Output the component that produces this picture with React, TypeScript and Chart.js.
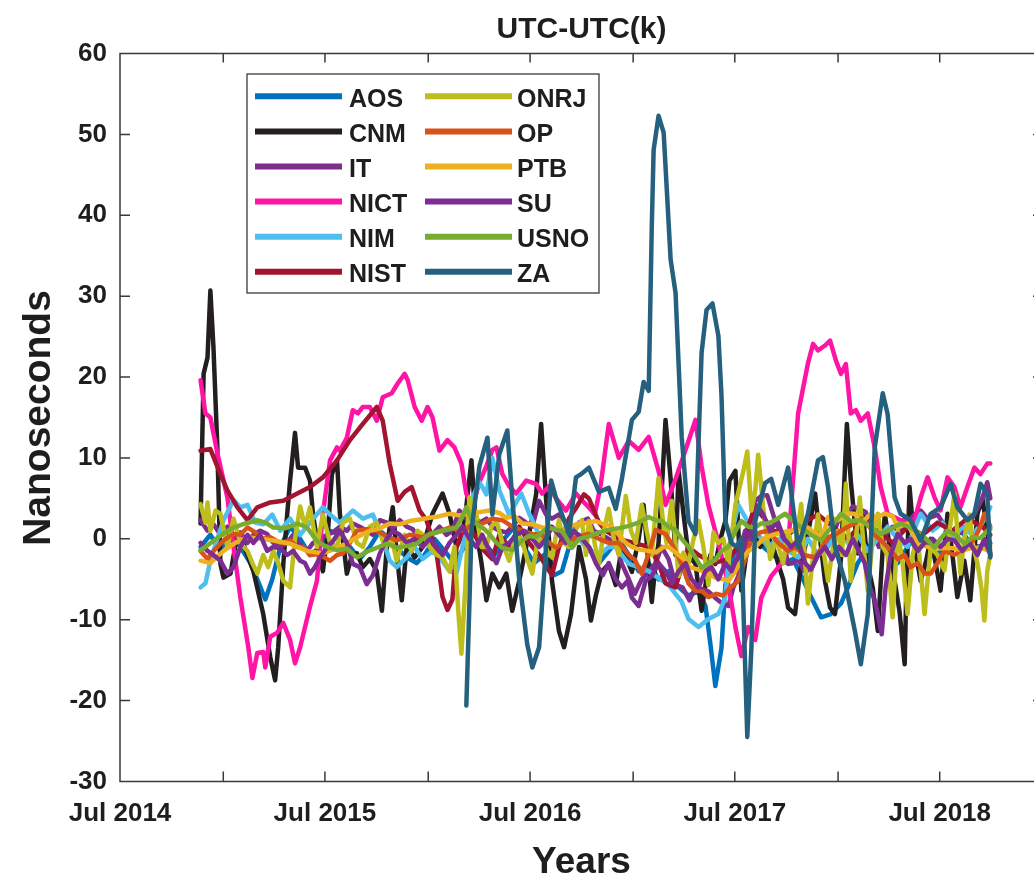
import { useEffect, useRef } from 'react';
import { Chart, registerables } from 'chart.js';
import type { Plugin } from 'chart.js';

Chart.register(...registerables);

type Pt = [number, number];

// Time axis in decimal years (1 Jul ≈ .496)
const X_MIN = 2014.496;
const X_MAX = 2019.0;
const X_TICKS = [2014.496, 2015.0, 2015.496, 2016.0, 2016.497, 2017.0, 2017.496, 2018.0, 2018.496, 2019.0];
const X_TICK_LABELS = ['Jul 2014', '', 'Jul 2015', '', 'Jul 2016', '', 'Jul 2017', '', 'Jul 2018', ''];
const Y_MIN = -30;
const Y_MAX = 60;
const Y_STEP = 10;

const TITLE = 'UTC-UTC(k)';
const X_TITLE = 'Years';
const Y_TITLE = 'Nanoseconds';

const LABELS = ['AOS', 'CNM', 'IT', 'NICT', 'NIM', 'NIST', 'ONRJ', 'OP', 'PTB', 'SU', 'USNO', 'ZA'];
const COLORS = ['#0072BD', '#231F20', '#7E2F8E', '#FF14A5', '#4DBEEE', '#A2142F', '#BDBD1C', '#D95319', '#EDB120', '#7B2D93', '#77AC30', '#25607F'];

// UTC - UTC(k) in ns, [decimal year, value]
const AOS: Pt[] = [
  [2014.889, -1], [2014.937, 0.5], [2014.986, -1.5], [2015.035, 1], [2015.083, -1], [2015.132, -3], [2015.166, -5],
  [2015.205, -7.5], [2015.239, -5], [2015.278, -1], [2015.326, 1.5], [2015.375, 0], [2015.423, -2], [2015.472, -1],
  [2015.521, 1], [2015.569, 0.5], [2015.618, -1], [2015.666, -2.5], [2015.715, -1], [2015.764, 1], [2015.812, 0],
  [2015.861, -1.5], [2015.909, -2.5], [2015.943, -3], [2015.982, -2], [2016.031, 0], [2016.080, -1.5], [2016.128, -3],
  [2016.176, -1], [2016.225, 1], [2016.274, -0.5], [2016.323, -2], [2016.371, 0], [2016.420, 1.5], [2016.468, -1],
  [2016.517, -3], [2016.565, -2], [2016.614, -4.5], [2016.653, -4], [2016.687, -1], [2016.736, 0.5], [2016.784, -1],
  [2016.833, -3], [2016.881, -1.5], [2016.930, 0], [2016.979, -2], [2017.027, -4], [2017.076, -3], [2017.124, -5],
  [2017.173, -4], [2017.222, -6], [2017.270, -7], [2017.319, -6.5], [2017.353, -8.3], [2017.377, -13], [2017.401, -18.2],
  [2017.431, -13.5], [2017.450, -5.7], [2017.489, -2], [2017.538, 0], [2017.586, 1], [2017.635, -1], [2017.683, -2],
  [2017.732, -3], [2017.780, -2.5], [2017.829, -5], [2017.868, -7.2], [2017.917, -9.7], [2017.965, -9.3], [2018.014, -8],
  [2018.048, -6], [2018.096, -3], [2018.145, -1], [2018.194, 0], [2018.242, -1.5], [2018.291, -3], [2018.339, -1],
  [2018.388, 0.5], [2018.437, -1], [2018.485, -2], [2018.534, 0], [2018.582, 1.5], [2018.631, 0], [2018.680, -1],
  [2018.743, -0.5],
];

const CNM: Pt[] = [
  [2014.889, 1.9], [2014.904, 20.4], [2014.923, 22.4], [2014.937, 30.7], [2014.952, 23.7], [2014.971, 11.3], [2014.986, -3.1],
  [2015.001, -4.8], [2015.035, -4.3], [2015.069, 0.6], [2015.098, -0.6], [2015.147, -4], [2015.195, -9.3], [2015.229, -14.6],
  [2015.253, -17.5], [2015.268, -13.4], [2015.293, -3.1], [2015.312, 3.1], [2015.326, 7.2], [2015.350, 13.1], [2015.365, 8.8],
  [2015.399, 8.8], [2015.423, 7.2], [2015.438, 3], [2015.462, -1], [2015.486, -4], [2015.511, 1], [2015.530, 8],
  [2015.555, 9.7], [2015.569, 3.1], [2015.603, -4.3], [2015.628, -2], [2015.652, -1.8], [2015.681, -3.5], [2015.715, -2.5],
  [2015.749, -4], [2015.774, -8.9], [2015.798, -1], [2015.827, 3.9], [2015.846, -1.8], [2015.871, -7.6], [2015.895, -1],
  [2015.934, -2.3], [2015.973, -1], [2016.021, 3.1], [2016.070, 5.6], [2016.104, 3.1], [2016.138, -1], [2016.167, 0.5],
  [2016.186, 4], [2016.211, 9.7], [2016.235, 1], [2016.260, -3], [2016.284, -7.6], [2016.313, -4.3], [2016.347, -6],
  [2016.381, -4.3], [2016.410, -8.9], [2016.444, -5.2], [2016.478, -1], [2016.503, 2], [2016.527, 5.6], [2016.551, 14.2],
  [2016.575, 5], [2016.604, -5.2], [2016.638, -11.4], [2016.663, -13.4], [2016.697, -9.3], [2016.736, -1], [2016.770, -5],
  [2016.794, -10.1], [2016.818, -7], [2016.848, -4], [2016.881, -3.1], [2016.915, -5.7], [2016.945, -1], [2016.994, -4.1],
  [2017.027, 0], [2017.051, 4.2], [2017.071, -2], [2017.091, -7.8], [2017.110, -3], [2017.124, -0.5], [2017.144, 8],
  [2017.158, 14.7], [2017.183, 7.4], [2017.207, -2], [2017.222, 8.4], [2017.246, 3], [2017.270, -2], [2017.304, -3.1],
  [2017.334, -8.9], [2017.353, -5.7], [2017.377, -2], [2017.401, -3.1], [2017.426, 0], [2017.450, 2.2], [2017.470, 7.2],
  [2017.499, 8.4], [2017.528, -6.4], [2017.552, -2], [2017.586, 1], [2017.620, -1], [2017.659, 0.2], [2017.683, -1],
  [2017.708, -3.1], [2017.732, -5], [2017.756, -8.5], [2017.790, -9.3], [2017.815, -4], [2017.839, -1], [2017.863, 2],
  [2017.888, 5.6], [2017.912, 0], [2017.936, -5.2], [2017.961, -8.5], [2017.985, -9.3], [2018.014, -2.5], [2018.043, 14.2],
  [2018.062, 7.2], [2018.096, -1.8], [2018.121, 3], [2018.145, -3.2], [2018.169, -6], [2018.194, -11.4], [2018.228, 3.1],
  [2018.252, -1], [2018.276, -5.2], [2018.300, -9], [2018.325, -15.5], [2018.334, -5], [2018.349, 6.4], [2018.373, -1],
  [2018.403, -5.2], [2018.427, -3], [2018.452, 0], [2018.476, -3], [2018.500, -6.4], [2018.534, 3.1], [2018.558, -2],
  [2018.582, -7.2], [2018.616, -2.7], [2018.645, -7.6], [2018.680, 3.1], [2018.704, 5], [2018.728, 1], [2018.743, -2],
];

const IT: Pt[] = [
  [2014.889, 2.3], [2014.923, 1], [2014.952, 1.8], [2014.986, 0.5], [2015.020, 1.5], [2015.050, -0.5], [2015.083, 0.8],
  [2015.118, -0.5], [2015.147, 0.5], [2015.180, 1], [2015.214, 0.6], [2015.244, -0.5], [2015.278, -1], [2015.312, -0.5],
  [2015.341, 0.5], [2015.375, -0.8], [2015.409, -1.5], [2015.438, -0.5], [2015.472, 0], [2015.506, 0.5], [2015.535, 0.8],
  [2015.569, 1.5], [2015.603, 1], [2015.632, 1.9], [2015.666, 1.5], [2015.700, 1], [2015.730, 0.5], [2015.764, 2.3],
  [2015.798, 2], [2015.827, 1.3], [2015.861, 2.3], [2015.895, 1.5], [2015.924, 1.2], [2015.958, 0], [2015.992, 0.5],
  [2016.021, 0.6], [2016.055, 1.5], [2016.089, 0.5], [2016.118, 1], [2016.152, 3.5], [2016.186, 2.5], [2016.216, 3.1],
  [2016.250, 2], [2016.284, 2.5], [2016.313, 1.5], [2016.347, 1], [2016.381, 0.8], [2016.410, 1.5], [2016.444, 2.6],
  [2016.478, 2], [2016.508, 1.5], [2016.541, 4.7], [2016.575, 3], [2016.604, 2.5], [2016.638, 3], [2016.672, 2],
  [2016.702, 1], [2016.736, 2], [2016.779, 2.5], [2016.808, 1], [2016.847, 0.5], [2016.881, 0], [2016.915, -0.5],
  [2016.945, -3.1], [2016.979, -5], [2017.008, -6.8], [2017.042, -5], [2017.076, -4], [2017.110, -3], [2017.139, -1],
  [2017.173, -2.5], [2017.207, -5.7], [2017.241, -6], [2017.275, -7.6], [2017.304, -6], [2017.334, -6.2], [2017.367, -6.5],
  [2017.401, -7.3], [2017.435, -8], [2017.465, -8.3], [2017.489, -6], [2017.513, -4.6], [2017.547, -0.5], [2017.572, 2],
  [2017.596, 4.7], [2017.625, 5.3], [2017.654, 5.4], [2017.693, 2.2], [2017.732, 0], [2017.756, -3.1], [2017.780, -3],
  [2017.805, -2.5], [2017.834, -4], [2017.868, -3.8], [2017.902, -2], [2017.936, -1.5], [2017.970, 0], [2018.004, 2.5],
  [2018.038, 3], [2018.072, 4], [2018.101, 3.7], [2018.135, 3.3], [2018.169, 1], [2018.199, -1], [2018.232, 0.5],
  [2018.266, 1.5], [2018.300, 1], [2018.339, 2], [2018.373, 3], [2018.403, 3.5], [2018.437, 2.5], [2018.485, 3],
  [2018.524, 1.5], [2018.568, 0.2], [2018.606, 1], [2018.641, 2], [2018.665, 3], [2018.704, 5], [2018.728, 7],
  [2018.743, 5],
];

const NICT: Pt[] = [
  [2014.889, 19.6], [2014.913, 15.5], [2014.937, 15], [2014.971, 10.6], [2015.020, 5.1], [2015.050, -1], [2015.083, -7.2],
  [2015.122, -13.4], [2015.142, -17.2], [2015.166, -14.1], [2015.195, -14], [2015.205, -15.9], [2015.229, -12.1],
  [2015.263, -11.6], [2015.293, -10.4], [2015.326, -12.5], [2015.350, -15.4], [2015.375, -13.4], [2015.423, -8.4],
  [2015.457, -5.2], [2015.486, 3.1], [2015.521, 9.7], [2015.555, 11.3], [2015.569, 10.9], [2015.603, 12.5], [2015.632, 15.9],
  [2015.657, 15.5], [2015.681, 16.3], [2015.715, 16.3], [2015.749, 14.6], [2015.778, 17.5], [2015.822, 18], [2015.851, 19.2],
  [2015.885, 20.4], [2015.900, 19.6], [2015.934, 16.3], [2015.968, 14.6], [2015.997, 16.3], [2016.021, 15], [2016.055, 10.9],
  [2016.094, 12.2], [2016.128, 11.3], [2016.162, 9.3], [2016.186, 5.6], [2016.216, 4], [2016.250, 7], [2016.284, 9],
  [2016.313, 11], [2016.333, 11.3], [2016.362, 8], [2016.395, 6.5], [2016.429, 5.6], [2016.478, 7.2], [2016.527, 6.8],
  [2016.556, 5.6], [2016.590, 6.5], [2016.624, 5], [2016.672, 3.5], [2016.721, 5.6], [2016.760, 4.5], [2016.784, 3.9],
  [2016.813, 3], [2016.842, 6.7], [2016.881, 14.2], [2016.930, 10], [2016.979, 12.1], [2017.027, 11], [2017.076, 12.6],
  [2017.124, 8.4], [2017.158, 4.2], [2017.207, 7.4], [2017.256, 11], [2017.304, 14.7], [2017.334, 9], [2017.367, 4.2],
  [2017.416, -0.5], [2017.465, -5.7], [2017.499, -10.9], [2017.528, -14.5], [2017.562, -10.9], [2017.596, -12.5],
  [2017.625, -7.3], [2017.674, -4.6], [2017.722, -3.1], [2017.756, -1], [2017.781, 7.4], [2017.805, 15.5], [2017.853, 21.7],
  [2017.878, 24.1], [2017.902, 23.3], [2017.936, 23.9], [2017.961, 24.5], [2017.990, 22], [2018.014, 20.4], [2018.038, 21.6],
  [2018.062, 15.5], [2018.087, 15.9], [2018.111, 14.6], [2018.145, 15.5], [2018.179, 11.3], [2018.208, 6.4], [2018.242, 3.1],
  [2018.305, 2.3], [2018.373, 2.3], [2018.403, 5.1], [2018.437, 7.6], [2018.471, 5.1], [2018.500, 3.5], [2018.534, 7.6],
  [2018.568, 6.4], [2018.597, 3.9], [2018.631, 6.4], [2018.665, 8.8], [2018.695, 8], [2018.728, 9.3], [2018.743, 9.3],
];

const NIM: Pt[] = [
  [2014.889, -6], [2014.913, -5.5], [2014.937, -2.7], [2014.971, 0], [2015.001, 2.3], [2015.050, 4.8], [2015.083, 3.9],
  [2015.118, 4.2], [2015.156, 2], [2015.195, 1.8], [2015.239, 3], [2015.278, 1], [2015.326, 2.5], [2015.375, 0.5],
  [2015.423, 2], [2015.486, 3.9], [2015.521, 3], [2015.569, 2], [2015.632, 3.5], [2015.681, 2.5], [2015.730, 3],
  [2015.778, 0], [2015.812, -2.7], [2015.846, -3.5], [2015.895, -2.3], [2015.934, -1], [2015.973, -2.5], [2016.021, -1.5],
  [2016.070, -2.8], [2016.104, -4], [2016.138, -4.3], [2016.176, 0], [2016.216, 5.1], [2016.250, 7], [2016.284, 5.5],
  [2016.313, 10], [2016.347, 6], [2016.395, 3], [2016.454, 5.6], [2016.493, 3.1], [2016.541, 0.5], [2016.590, -2],
  [2016.638, -1], [2016.687, 1.5], [2016.736, 0], [2016.784, -1.5], [2016.833, -2], [2016.881, -1], [2016.915, -1],
  [2016.945, -2], [2016.979, -3.1], [2017.027, -3.5], [2017.076, -4], [2017.110, -4.6], [2017.173, -5.7], [2017.237, -7.8],
  [2017.270, -9.9], [2017.319, -10.9], [2017.367, -9.9], [2017.416, -9.3], [2017.450, -7.3], [2017.475, 0], [2017.513, 4.2],
  [2017.562, 2], [2017.610, 0.5], [2017.659, -1], [2017.708, 0], [2017.756, -1.5], [2017.805, -2.3], [2017.853, 0],
  [2017.902, -2], [2017.951, -1], [2017.999, 1], [2018.048, -0.5], [2018.096, 0.5], [2018.145, -1.5], [2018.194, 0],
  [2018.242, 1.5], [2018.291, 0], [2018.339, -1], [2018.403, 3.1], [2018.461, 1], [2018.510, 2], [2018.558, 0],
  [2018.607, 1.5], [2018.655, 0.5], [2018.704, 2], [2018.743, 3.9],
];

const NIST: Pt[] = [
  [2014.889, 10.9], [2014.937, 11.1], [2014.986, 8], [2015.020, 6], [2015.069, 3.9], [2015.118, 2.3], [2015.166, 3.9],
  [2015.229, 4.5], [2015.293, 4.7], [2015.361, 5.6], [2015.423, 6.4], [2015.486, 7.6], [2015.555, 9.7], [2015.618, 12.2],
  [2015.681, 14.2], [2015.749, 16.3], [2015.778, 14.6], [2015.812, 9.3], [2015.851, 4.7], [2015.885, 5.8], [2015.919, 6.4],
  [2015.958, 3.5], [2015.992, 2.3], [2016.041, -1.8], [2016.070, -7.2], [2016.094, -8.8], [2016.118, -7.5], [2016.138, -1],
  [2016.176, 1.5], [2016.225, 0.5], [2016.274, -1.5], [2016.313, -2.5], [2016.347, 0.5], [2016.395, -1], [2016.444, 1.5],
  [2016.493, -0.5], [2016.541, -2], [2016.604, -4.5], [2016.638, -1], [2016.687, 2.5], [2016.726, 4], [2016.760, 5.5],
  [2016.784, 5], [2016.833, 2], [2016.867, 1], [2016.930, 0], [2017.003, -0.5], [2017.076, -1], [2017.124, -3],
  [2017.158, -5.5], [2017.207, -6], [2017.237, -3.5], [2017.270, -1], [2017.319, -2], [2017.392, -3], [2017.465, -2.5],
  [2017.538, 0], [2017.596, 3.9], [2017.625, 3], [2017.683, 1], [2017.756, 0.5], [2017.829, 2], [2017.902, 3],
  [2017.975, 1.5], [2018.048, 0], [2018.121, 2], [2018.194, 1], [2018.266, -0.5], [2018.339, 1.5], [2018.413, 0.5],
  [2018.485, 2], [2018.558, 1], [2018.631, 2.5], [2018.704, 1.5], [2018.743, 0.5],
];

const ONRJ: Pt[] = [
  [2014.889, 4.3], [2014.913, 2], [2014.923, 4.5], [2014.937, 1], [2014.962, 3.5], [2014.986, 3.1], [2015.020, -1],
  [2015.050, 2.5], [2015.083, -0.5], [2015.118, -1.5], [2015.142, -3], [2015.166, -4.3], [2015.195, -2], [2015.219, -3.5],
  [2015.244, -1.5], [2015.268, -3], [2015.293, -5.2], [2015.326, -6], [2015.350, 0], [2015.375, 4], [2015.399, 1.5],
  [2015.423, 3.9], [2015.457, -1], [2015.486, 3], [2015.521, -0.5], [2015.555, -1], [2015.584, 2], [2015.618, 2.5],
  [2015.652, -0.5], [2015.681, -1], [2015.715, 1.5], [2015.749, 2], [2015.788, -1], [2015.822, 0], [2015.846, -2.7],
  [2015.885, 0.5], [2015.919, -1.5], [2015.948, 1], [2015.973, 0.5], [2016.007, -1], [2016.041, -2], [2016.070, -2.3],
  [2016.104, -4], [2016.128, -1], [2016.147, -9], [2016.162, -14.2], [2016.181, -6], [2016.201, 5.1], [2016.235, 3],
  [2016.260, -1], [2016.284, -1], [2016.308, 1.5], [2016.333, 2.3], [2016.362, -0.5], [2016.395, -2.7], [2016.429, 0.5],
  [2016.459, -0.2], [2016.483, -2.5], [2016.508, -4.3], [2016.532, -0.5], [2016.556, 0.6], [2016.580, -1.5], [2016.604, -2.3],
  [2016.624, 0.5], [2016.638, 2.3], [2016.663, -0.5], [2016.687, -1], [2016.716, 1], [2016.750, 2.3], [2016.770, -2],
  [2016.784, 2.2], [2016.808, 0], [2016.833, -3.1], [2016.857, 1], [2016.881, 3.7], [2016.906, 0], [2016.930, -2],
  [2016.964, 5.3], [2016.989, 1], [2017.013, -0.5], [2017.042, 4.2], [2017.066, 1], [2017.091, -2], [2017.124, 7.5],
  [2017.144, 2.5], [2017.163, -0.5], [2017.188, 4.7], [2017.222, -4.6], [2017.246, -1.7], [2017.270, -3.1], [2017.295, 0],
  [2017.319, 2.2], [2017.343, -1], [2017.367, -5.7], [2017.392, 0.8], [2017.416, -0.5], [2017.440, 0], [2017.465, -3.1],
  [2017.499, 4.2], [2017.538, 8.4], [2017.557, 10.8], [2017.577, 3.5], [2017.596, 6], [2017.610, 10.4], [2017.640, 2.5],
  [2017.669, -2.5], [2017.698, 0], [2017.732, -3], [2017.756, 1], [2017.785, -2], [2017.820, 4.3], [2017.853, -8],
  [2017.878, -2], [2017.902, 3], [2017.926, -1], [2017.951, -5.2], [2017.975, -1], [2017.999, 1], [2018.019, -2],
  [2018.038, 6.8], [2018.062, -5.2], [2018.087, 0], [2018.106, 5.1], [2018.125, -1], [2018.145, -6.4], [2018.169, 0],
  [2018.194, 3.1], [2018.218, -1], [2018.242, -2], [2018.266, -9.7], [2018.291, 1], [2018.315, -3], [2018.339, -9.3],
  [2018.364, -2], [2018.388, 0.5], [2018.422, -9.3], [2018.452, -1], [2018.485, -2], [2018.519, -3.9], [2018.544, 1],
  [2018.568, 5.6], [2018.597, -4.3], [2018.616, 0], [2018.641, 3], [2018.660, -1], [2018.680, -3], [2018.699, -6],
  [2018.714, -10.1], [2018.728, -4], [2018.743, -1.8],
];

const OP: Pt[] = [
  [2014.889, -1.5], [2014.923, -2.5], [2014.952, -1.5], [2015.001, -0.2], [2015.050, 0.6], [2015.083, 0.5], [2015.118, 1.4],
  [2015.156, 0.8], [2015.190, 0], [2015.229, 0.2], [2015.278, -0.5], [2015.326, -0.2], [2015.361, -1], [2015.390, -1],
  [2015.423, -2], [2015.457, -1.9], [2015.486, -2.2], [2015.521, -2.7], [2015.555, -2], [2015.584, -1.8], [2015.618, -0.5],
  [2015.652, 1], [2015.700, 1.2], [2015.749, 1], [2015.798, 0.3], [2015.846, -0.2], [2015.909, 0.5], [2015.973, 0.2],
  [2016.041, 0.8], [2016.104, 1.4], [2016.176, 1], [2016.225, 2], [2016.264, 1.9], [2016.313, 2.5], [2016.362, 2.3],
  [2016.410, 1.5], [2016.459, 1], [2016.508, 0.6], [2016.556, 0.5], [2016.590, -0.5], [2016.624, -1.1], [2016.653, -0.5],
  [2016.687, -0.2], [2016.736, 0.3], [2016.784, 0.6], [2016.833, 0], [2016.881, -0.5], [2016.930, -0.5], [2016.979, -2],
  [2017.008, -2.6], [2017.042, -4.3], [2017.076, -1.8], [2017.110, 1.1], [2017.158, 0.6], [2017.197, -1], [2017.237, -3.1],
  [2017.270, -5.5], [2017.304, -6.4], [2017.338, -6.5], [2017.367, -7.2], [2017.406, -6.8], [2017.440, -7], [2017.475, -6],
  [2017.513, -5.2], [2017.547, -2.5], [2017.577, 0], [2017.620, 0.8], [2017.659, 1], [2017.708, -0.5], [2017.756, -1.5],
  [2017.790, -1], [2017.834, -2], [2017.888, -2.3], [2017.922, -1], [2017.951, 0.2], [2017.985, 0.5], [2018.014, 1],
  [2018.048, 1.5], [2018.082, 1.9], [2018.111, 2.5], [2018.145, 1.8], [2018.179, 0.5], [2018.208, -0.2], [2018.242, -1],
  [2018.291, -2.5], [2018.325, -2], [2018.354, -3.5], [2018.388, -3], [2018.422, -4.3], [2018.452, -4.3], [2018.485, -3],
  [2018.519, -1.5], [2018.568, -2], [2018.597, -1.5], [2018.631, -1], [2018.665, 0], [2018.695, 1.5], [2018.714, 3.1],
  [2018.728, 2.5], [2018.743, 1.5],
];

const PTB: Pt[] = [
  [2014.889, -2.7], [2014.937, -3], [2015.001, -1.5], [2015.059, -0.5], [2015.118, 0.2], [2015.180, 0], [2015.244, -0.2],
  [2015.326, -0.6], [2015.409, -1.5], [2015.486, -1.8], [2015.569, -1], [2015.652, 0.2], [2015.715, 1], [2015.764, 1.3],
  [2015.812, 1.9], [2015.861, 1.8], [2015.909, 2.2], [2015.958, 2.4], [2016.007, 2.6], [2016.055, 2.8], [2016.104, 3.1],
  [2016.152, 2.9], [2016.201, 3.1], [2016.250, 3.3], [2016.298, 3.5], [2016.347, 3.2], [2016.381, 2.6], [2016.420, 2.8],
  [2016.459, 1.9], [2016.508, 1.8], [2016.556, 1.4], [2016.604, 1.2], [2016.653, 1], [2016.687, 1.5], [2016.736, 1.9],
  [2016.784, 2], [2016.818, 2.2], [2016.857, 1.8], [2016.891, 1.6], [2016.930, 0.5], [2016.964, -0.5], [2016.994, -1],
  [2017.027, -1.3], [2017.076, -1.5], [2017.110, -1.7], [2017.149, -1], [2017.173, -1], [2017.207, -1.7], [2017.246, -2.5],
  [2017.275, -3.5], [2017.319, -3.8], [2017.367, -4.3], [2017.401, -4.8], [2017.440, -5], [2017.465, -5.2], [2017.499, -4],
  [2017.528, -2.7], [2017.562, -1.5], [2017.596, -1], [2017.635, 0], [2017.693, 0.6], [2017.771, 1], [2017.853, 1.4],
  [2017.888, 0.6], [2017.926, 0.3], [2017.951, 2.7], [2017.999, 2.3], [2018.048, 3.1], [2018.082, 3.1], [2018.111, 1.9],
  [2018.160, 3.1], [2018.179, 2.6], [2018.228, 3.1], [2018.266, 2.8], [2018.291, 1.4], [2018.339, 1.9], [2018.388, -0.6],
  [2018.437, -1], [2018.485, -1.2], [2018.534, -1.1], [2018.568, -1.2], [2018.616, -1.4], [2018.655, -1.1], [2018.695, -1.1],
  [2018.728, -1.4], [2018.743, -0.8],
];

const SU: Pt[] = [
  [2014.889, -0.5], [2014.923, -1.5], [2014.952, -2], [2014.986, -2.7], [2015.020, -4.3], [2015.050, -3.5], [2015.083, -1],
  [2015.118, 0.5], [2015.147, -0.5], [2015.180, 0.5], [2015.214, -1.5], [2015.244, -1], [2015.278, -1.2], [2015.312, -2],
  [2015.341, -1.5], [2015.375, -2.7], [2015.399, -3], [2015.423, -4.3], [2015.447, -3.5], [2015.472, -2.3], [2015.506, -1],
  [2015.535, -0.3], [2015.569, 1], [2015.603, -0.5], [2015.632, -3.1], [2015.666, -3.5], [2015.700, -5.6], [2015.730, -4.5],
  [2015.764, -1.8], [2015.798, 0], [2015.827, 1], [2015.861, 0.5], [2015.895, -0.5], [2015.934, 0], [2015.973, -1],
  [2016.007, 0], [2016.041, -1], [2016.070, -2], [2016.104, -0.5], [2016.138, 0.5], [2016.167, 1.5], [2016.201, 0],
  [2016.235, -1], [2016.264, 0.5], [2016.298, -1.5], [2016.333, -3], [2016.362, -1], [2016.395, -0.5], [2016.429, 0.5],
  [2016.468, 1], [2016.508, 0], [2016.541, -1], [2016.575, 0], [2016.604, 1.5], [2016.638, 0.5], [2016.672, -0.5],
  [2016.711, 1], [2016.750, 0], [2016.784, -1], [2016.818, -3], [2016.852, -4.5], [2016.881, -3], [2016.915, -5],
  [2016.945, -6], [2016.974, -5.2], [2016.994, -7.3], [2017.027, -8.3], [2017.061, -5.2], [2017.091, -4.6], [2017.124, -3],
  [2017.158, -4], [2017.188, -5.5], [2017.222, -4], [2017.256, -3], [2017.285, -5], [2017.319, -6], [2017.353, -4],
  [2017.382, -3.5], [2017.416, -5], [2017.450, -3], [2017.480, -4], [2017.513, -2], [2017.547, 1], [2017.577, 0],
  [2017.606, 4.1], [2017.635, 3], [2017.669, 1], [2017.703, 2.3], [2017.737, 0], [2017.771, -1], [2017.805, -0.2],
  [2017.839, -3], [2017.868, -3.8], [2017.902, -2], [2017.936, -1], [2017.970, -2.5], [2018.004, -1], [2018.038, -2],
  [2018.072, 0], [2018.101, -1.5], [2018.130, -3], [2018.155, -6], [2018.179, -7.6], [2018.199, -10], [2018.213, -11.8],
  [2018.232, -6], [2018.257, -2], [2018.291, 0.6], [2018.325, -0.5], [2018.354, 0], [2018.388, -1.5], [2018.422, -0.5],
  [2018.461, 0], [2018.500, -1], [2018.534, 0], [2018.568, -0.2], [2018.606, -1.5], [2018.641, -0.5], [2018.680, -2],
  [2018.714, 0], [2018.743, -2],
];

const USNO: Pt[] = [
  [2014.889, -1.4], [2014.923, -0.8], [2014.971, 0.1], [2015.010, 0.8], [2015.050, 1.4], [2015.108, 1.9], [2015.166, 2.3],
  [2015.205, 2], [2015.244, 1.4], [2015.302, 1.3], [2015.361, 1.9], [2015.409, 1.4], [2015.457, -0.3], [2015.506, -1],
  [2015.555, -1.4], [2015.603, -1.2], [2015.652, -2.3], [2015.700, -1.6], [2015.749, -1.1], [2015.798, -0.6], [2015.846, -1.1],
  [2015.895, -0.9], [2015.943, -0.6], [2016.007, 0.6], [2016.070, 1], [2016.138, 1.4], [2016.162, 2.5], [2016.186, 3.9],
  [2016.211, 2.4], [2016.235, 1.9], [2016.274, 1.2], [2016.298, 0.6], [2016.333, -0.5], [2016.362, -1.1], [2016.410, -1.4],
  [2016.459, -0.2], [2016.493, 0.4], [2016.527, 0.2], [2016.565, 1], [2016.590, 1.4], [2016.624, 1.1], [2016.653, 1],
  [2016.677, 0], [2016.702, -1.1], [2016.736, 0], [2016.784, 0.3], [2016.833, 0.8], [2016.881, 1.1], [2016.930, 1.3],
  [2016.979, 1.6], [2017.027, 2], [2017.076, 2.7], [2017.110, 2.3], [2017.139, 2.2], [2017.173, 1.5], [2017.207, 1.1],
  [2017.237, 0], [2017.270, -1], [2017.304, -2.3], [2017.334, -3.6], [2017.367, -3], [2017.401, -2.6], [2017.431, -1.5],
  [2017.465, -1], [2017.499, 1], [2017.528, 2.2], [2017.562, 1.5], [2017.596, 1.4], [2017.625, 1.9], [2017.659, 1.9],
  [2017.698, 2.4], [2017.742, 3.1], [2017.780, 2.2], [2017.820, 1.4], [2017.868, 0.5], [2017.917, -0.2], [2017.965, 1.4],
  [2018.014, 3.1], [2018.062, 2.2], [2018.111, 2.3], [2018.160, 1.4], [2018.208, 0.6], [2018.257, 1.2], [2018.305, 1.9],
  [2018.354, 1.4], [2018.403, 0.6], [2018.437, -0.2], [2018.471, -1.1], [2018.500, 0], [2018.534, 1], [2018.573, 0.5],
  [2018.616, -0.6], [2018.655, 0.2], [2018.695, 0.1], [2018.728, 1], [2018.743, 1.2],
];

const ZA: Pt[] = [
  [2016.186, -20.6], [2016.201, -8], [2016.211, 1], [2016.250, 9], [2016.289, 12.5], [2016.313, 3], [2016.347, 10.5],
  [2016.386, 13.4], [2016.410, 5], [2016.444, -5], [2016.483, -13], [2016.508, -15.9], [2016.541, -13.4], [2016.575, -1],
  [2016.600, 7.2], [2016.624, 5], [2016.653, 3], [2016.687, 0.6], [2016.721, 7.6], [2016.746, 8], [2016.784, 8.8],
  [2016.833, 5.8], [2016.881, 6.3], [2016.915, 3.7], [2016.945, 7.4], [2016.994, 14.7], [2017.027, 15.7], [2017.051, 19.4],
  [2017.076, 18.3], [2017.091, 38.7], [2017.100, 48.1], [2017.124, 52.3], [2017.149, 50.2], [2017.183, 34.5], [2017.207, 30.4],
  [2017.237, 12.6], [2017.270, 2.2], [2017.304, 0.6], [2017.334, 23], [2017.358, 28.3], [2017.387, 29.1], [2017.416, 25.1],
  [2017.431, 17.8], [2017.450, 2.2], [2017.480, -0.5], [2017.504, -1], [2017.528, 0.1], [2017.547, -16.1], [2017.557, -24.5],
  [2017.577, -13.5], [2017.596, 2.2], [2017.644, 6.9], [2017.674, 7.4], [2017.708, 4.2], [2017.756, 8.8], [2017.805, -1],
  [2017.853, 3.1], [2017.902, 9.7], [2017.926, 10.1], [2017.951, 6.4], [2017.985, -1], [2018.033, -5.2], [2018.082, -11.4],
  [2018.111, -15.5], [2018.145, -9.3], [2018.179, 11.3], [2018.218, 18], [2018.242, 15.4], [2018.276, 5.1], [2018.305, 3.1],
  [2018.354, 2.3], [2018.403, -0.2], [2018.452, 3.1], [2018.500, 3.9], [2018.549, 6.8], [2018.582, 3.9], [2018.631, 2.3],
  [2018.665, 3.1], [2018.695, 6.8], [2018.728, 5.6], [2018.743, -2.3],
];

const SERIES: Pt[][] = [AOS, CNM, IT, NICT, NIM, NIST, ONRJ, OP, PTB, SU, USNO, ZA];

const FONT = "'Liberation Sans', Arial, Helvetica, sans-serif";
const INK = '#1e1e1e';
const FRAME = '#3a3a3a';

const decorations: Plugin = {
  id: 'decorations',
  beforeDraw(chart) {
    const { ctx, width, height } = chart;
    ctx.save();
    ctx.fillStyle = '#ffffff';
    ctx.fillRect(0, 0, width, height);
    ctx.restore();
  },
  afterDraw(chart) {
    const { ctx, chartArea: a } = chart;
    const xs = chart.scales.x;
    const ys = chart.scales.y;
    ctx.save();

    // axes box with inward ticks
    ctx.strokeStyle = FRAME;
    ctx.lineWidth = 1.5;
    ctx.strokeRect(a.left, a.top, a.right - a.left, a.bottom - a.top);
    ctx.beginPath();
    for (const v of X_TICKS) {
      const px = xs.getPixelForValue(v);
      if (px <= a.left + 1 || px >= a.right - 1) continue;
      ctx.moveTo(px, a.bottom);
      ctx.lineTo(px, a.bottom - 10);
      ctx.moveTo(px, a.top);
      ctx.lineTo(px, a.top + 9);
    }
    for (let v = Y_MIN + Y_STEP; v < Y_MAX; v += Y_STEP) {
      const py = ys.getPixelForValue(v);
      ctx.moveTo(a.left, py);
      ctx.lineTo(a.left + 10, py);
      ctx.moveTo(a.right, py);
      ctx.lineTo(a.right - 10, py);
    }
    ctx.stroke();

    // titles
    const cx = (a.left + a.right) / 2;
    ctx.fillStyle = INK;
    ctx.textAlign = 'center';
    ctx.textBaseline = 'alphabetic';
    ctx.font = `bold 30px ${FONT}`;
    ctx.fillText(TITLE, cx, 38);
    ctx.font = `bold 37px ${FONT}`;
    ctx.fillText(X_TITLE, cx, 873);
    ctx.save();
    ctx.translate(50, 418);
    ctx.rotate(-Math.PI / 2);
    ctx.font = `bold 39px ${FONT}`;
    ctx.fillText(Y_TITLE, 0, 0);
    ctx.restore();

    // legend: two columns, filled column by column
    const box = { l: 247, t: 74, r: 599, b: 293 };
    ctx.fillStyle = '#ffffff';
    ctx.fillRect(box.l, box.t, box.r - box.l, box.b - box.t);
    ctx.strokeStyle = FRAME;
    ctx.lineWidth = 1.3;
    ctx.strokeRect(box.l, box.t, box.r - box.l, box.b - box.t);
    const cols = [
      { x0: 255, x1: 342, tx: 349 },
      { x0: 425, x1: 512, tx: 517 },
    ];
    const rows = 6;
    ctx.font = `bold 25px ${FONT}`;
    ctx.textAlign = 'left';
    chart.data.datasets.forEach((ds, i) => {
      const c = cols[Math.floor(i / rows)];
      const ry = 96.3 + (i % rows) * 35.1;
      ctx.strokeStyle = ds.borderColor as string;
      ctx.lineWidth = 6;
      ctx.lineCap = 'butt';
      ctx.beginPath();
      ctx.moveTo(c.x0, ry);
      ctx.lineTo(c.x1, ry);
      ctx.stroke();
      ctx.fillStyle = INK;
      ctx.fillText(ds.label as string, c.tx, ry + 10.5);
    });

    ctx.restore();
  },
};

export default function App() {
  const ref = useRef<HTMLCanvasElement | null>(null);

  useEffect(() => {
    const canvas = ref.current;
    if (!canvas) return;
    const n = SERIES.length;
    const chart = new Chart(canvas, {
      type: 'line',
      data: {
        datasets: SERIES.map((s, i) => ({
          label: LABELS[i],
          data: s.map(([x, y]) => ({ x, y })),
          borderColor: COLORS[i],
          backgroundColor: COLORS[i],
          borderWidth: 4.5,
          pointRadius: 0,
          fill: false,
          tension: 0,
          borderJoinStyle: 'round' as const,
          borderCapStyle: 'round' as const,
          order: n - 1 - i,
        })),
      },
      options: {
        responsive: false,
        animation: false,
        devicePixelRatio: 1,
        parsing: false,
        normalized: true,
        layout: { padding: { top: 53.5, right: 14, left: 0, bottom: 0 } },
        plugins: {
          legend: { display: false },
          title: { display: false },
          tooltip: { enabled: false },
        },
        scales: {
          x: {
            type: 'linear',
            min: X_MIN,
            max: X_MAX,
            grid: { display: false, drawTicks: false },
            border: { display: false },
            afterBuildTicks: (axis: any) => {
              axis.ticks = X_TICKS.map((v) => ({ value: v }));
            },
            afterFit: (axis: any) => {
              axis.height = 93.5;
            },
            ticks: {
              autoSkip: false,
              maxRotation: 0,
              minRotation: 0,
              padding: 17,
              color: INK,
              font: { family: FONT, size: 26, weight: 'bold' },
              callback: (_v: any, i: number) => X_TICK_LABELS[i],
            },
          },
          y: {
            type: 'linear',
            min: Y_MIN,
            max: Y_MAX,
            grid: { display: false, drawTicks: false },
            border: { display: false },
            afterFit: (axis: any) => {
              axis.width = 120;
            },
            ticks: {
              stepSize: Y_STEP,
              padding: 13,
              color: INK,
              font: { family: FONT, size: 26, weight: 'bold' },
            },
          },
        },
      },
      plugins: [decorations],
    });
    return () => chart.destroy();
  }, []);

  return (
    <div
      style={{
        position: 'absolute',
        left: 0,
        top: 0,
        width: 1034,
        height: 875,
        overflow: 'hidden',
        background: '#ffffff',
      }}
    >
      <canvas ref={ref} width={1060} height={875} style={{ display: 'block', width: 1060, height: 875 }} />
    </div>
  );
}
